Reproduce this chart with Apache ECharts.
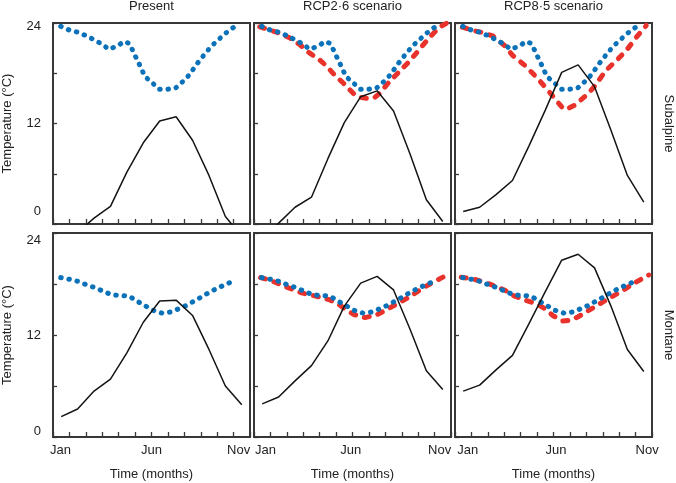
<!DOCTYPE html>
<html><head><meta charset="utf-8">
<script src="https://cdn.jsdelivr.net/npm/echarts@6/dist/echarts.min.js"></script>
<style>html,body{margin:0;padding:0;background:#fff}#c{width:676px;height:483px}</style>
</head><body><div id="c"></div>
<script>
// ---------------- data ----------------
const monthPos = [0.5, 1.5, 2.5, 3.5, 4.5, 5.5, 6.5, 7.5, 8.5, 9.5, 10.5, 11.5];
const monthTicks = {1: 'Jan', 6: 'Jun', 11: 'Nov'};
const columnTitles = ['Present', 'RCP2·6 scenario', 'RCP8·5 scenario'];
const rowNames = ['Subalpine', 'Montane'];
const yAxisName = 'Temperature (°C)';
const xAxisName = 'Time (months)';

// monthly mean temperature (black lines)
const tempSubPresent = [-2.6, -1.0, 0.7, 2.1, 6.2, 9.7, 12.3, 12.8, 10.0, 5.8, 0.9, -1.5];
const tempSub26      = [-1.8, 0.1, 2.0, 3.2, 7.8, 12.1, 15.2, 15.9, 13.5, 8.4, 2.9, 0.3];
const tempSub85      = [1.5, 2.0, 3.5, 5.2, 9.3, 13.6, 18.1, 19.0, 16.4, 11.2, 5.8, 2.6];
const tempMonPresent = [2.4, 3.3, 5.4, 6.8, 9.9, 13.5, 16.0, 16.1, 14.3, 10.3, 6.0, 3.8];
const tempMon26      = [3.9, 4.7, 6.6, 8.4, 11.3, 15.4, 18.1, 18.9, 17.3, 12.7, 7.8, 5.6];
const tempMon85      = [5.4, 6.1, 7.9, 9.6, 13.3, 17.1, 20.8, 21.5, 19.9, 15.4, 10.3, 7.7];

// present thermal threshold (blue dotted), [month, °C]
const thresholdSubPresent = [[0.47,23.6],[1.0,23.15],[1.5,22.9],[2.0,22.5],[2.5,22.0],[3.0,21.45],[3.4,20.85],[3.9,21.25],[4.35,21.8],[4.65,21.55],[4.9,20.55],[5.1,19.7],[5.35,18.7],[5.6,17.6],[6.0,16.95],[6.45,16.1],[7.0,16.1],[7.45,16.2],[7.9,17.0],[8.3,17.8],[8.6,18.65],[8.95,19.6],[9.3,20.4],[9.6,21.15],[10.1,22.05],[10.5,22.75],[10.9,23.35],[11.35,23.95]];
const thresholdMonPresent = [[0.47,18.75],[1.0,18.55],[1.55,18.3],[2.1,17.85],[2.6,17.55],[3.1,17.1],[3.6,16.72],[4.15,16.65],[4.65,16.55],[5.15,15.95],[5.65,15.4],[6.1,14.9],[6.65,14.57],[7.15,14.7],[7.65,15.08],[8.15,15.5],[8.7,16.1],[9.2,16.65],[9.6,17.1],[10.1,17.6],[10.6,18.0],[11.1,18.5]];

// future thermal threshold (red dashed), [month, °C]
const thresholdSub26 = [[0.35,23.55],[1.0,23.15],[1.6,22.75],[2.2,22.2],[2.8,21.4],[3.4,20.4],[4.0,19.6],[4.45,18.8],[4.9,17.8],[5.35,17.0],[5.85,16.0],[6.15,15.4],[6.55,15.1],[6.95,15.0],[7.35,15.1],[7.65,15.6],[8.25,17.0],[8.85,18.2],[9.5,19.5],[10.1,20.9],[10.7,22.3],[11.3,23.5],[11.75,24.0]];
const thresholdSub85 = [[0.45,23.5],[1.0,23.15],[1.7,22.85],[2.3,22.45],[3.0,21.35],[3.5,20.15],[4.25,18.95],[4.95,17.55],[5.65,16.0],[6.15,14.8],[6.6,13.75],[6.8,13.7],[7.3,14.2],[7.9,15.2],[8.4,16.2],[9.2,18.35],[9.85,19.55],[10.45,20.75],[11.05,22.3],[11.65,23.7]];
const thresholdMon26 = [[0.4,18.75],[1.0,18.45],[1.7,17.85],[2.9,16.95],[3.7,16.6],[4.6,16.15],[5.2,15.55],[5.6,15.0],[6.1,14.4],[6.75,14.05],[7.45,14.35],[8.05,14.95],[8.7,15.65],[9.4,16.4],[10.1,17.3],[10.8,18.1],[11.6,18.9]];
const thresholdMon85 = [[0.38,18.8],[1.1,18.6],[1.7,18.25],[2.4,17.8],[3.0,17.3],[3.6,16.6],[4.35,16.05],[5.05,15.6],[5.55,15.0],[5.95,14.3],[6.55,13.65],[7.1,13.75],[7.5,14.15],[8.2,14.95],[8.8,15.65],[9.6,16.55],[10.35,17.4],[11.05,18.25],[11.8,19.05]];

// panels [row][col]
const panelTemp = [[tempSubPresent, tempSub26, tempSub85], [tempMonPresent, tempMon26, tempMon85]];
const panelBlue = [[thresholdSubPresent, thresholdSubPresent, thresholdSubPresent], [thresholdMonPresent, thresholdMonPresent, thresholdMonPresent]];
const panelRed  = [[null, thresholdSub26, thresholdSub85], [null, thresholdMon26, thresholdMon85]];

// ---------------- layout / style ----------------
const FONT = 'Liberation Sans, Arial, Helvetica, sans-serif';
const TXT = '#222';
const FRAME = '#383838';
const colLeft = [53, 254, 455];
const colWidth = [197, 197, 197];
const rowTop = [23, 233];
const rowHeight = [201, 204];
const xLabelShift = [[-9, 0, 5], [-5, -1.7, 5], [-3.6, 2.4, 11.6]]; // per column: Jan, Jun, Nov
const yLabelPad = [[7, 26], [14, 11]]; // per row: top pad for 24, bottom pad for 0

const chart = echarts.init(document.getElementById('c'), null, {renderer: 'canvas'});
const grid = [], xAxis = [], yAxis = [], series = [], graphic = [];

function shiftPad(s) { return s < 0 ? [0, -2 * s, 0, 0] : [0, 0, 0, 2 * s]; }

for (let r = 0; r < 2; r++) {
  for (let c = 0; c < 3; c++) {
    const gi = grid.length;
    grid.push({left: colLeft[c], top: rowTop[r], width: colWidth[c], height: rowHeight[r],
      show: true, borderColor: FRAME, borderWidth: 2, backgroundColor: 'transparent',
      containLabel: false, outerBoundsMode: 'none'});
    const sh = xLabelShift[c];
    xAxis.push({
      type: 'value', gridIndex: gi, min: 0, max: 12, interval: 1,
      axisLine: {show: false},
      axisTick: {show: true, inside: true, length: 5, lineStyle: {color: FRAME, width: 1.3}},
      splitLine: {show: false},
      axisLabel: {
        show: r === 1, margin: 7, color: TXT, fontSize: 13, fontFamily: FONT,
        showMinLabel: true, showMaxLabel: true, hideOverlap: false,
        formatter: function (v) {
          if (v === 1) return '{a|Jan}';
          if (v === 6) return '{b|Jun}';
          if (v === 11) return '{d|Nov}';
          return '';
        },
        rich: {
          a: {padding: shiftPad(sh[0]), fontSize: 13, fontFamily: FONT, color: TXT},
          b: {padding: shiftPad(sh[1]), fontSize: 13, fontFamily: FONT, color: TXT},
          d: {padding: shiftPad(sh[2]), fontSize: 13, fontFamily: FONT, color: TXT}
        }
      },
      name: r === 1 ? xAxisName : '', nameLocation: 'middle', nameGap: 31, nameMoveOverlap: false,
      nameTextStyle: {color: TXT, fontSize: 13, fontFamily: FONT}
    });
    const yp = yLabelPad[r];
    yAxis.push({
      type: 'value', gridIndex: gi, min: 0, max: 24, interval: 6,
      axisLine: {show: false},
      axisTick: {show: true, inside: true, length: 4, lineStyle: {color: FRAME, width: 1.3}},
      splitLine: {show: false},
      axisLabel: {
        show: c === 0, margin: 12, color: TXT, fontSize: 13, fontFamily: FONT,
        showMinLabel: true, showMaxLabel: true, hideOverlap: false,
        formatter: function (v) {
          if (v === 24) return '{t|24}';
          if (v === 0) return '{u|0}';
          if (v === 12) return '12';
          return '';
        },
        rich: {
          t: {padding: [yp[0], 0, 0, 0], fontSize: 13, fontFamily: FONT, color: TXT},
          u: {padding: [0, 0, yp[1], 0], fontSize: 13, fontFamily: FONT, color: TXT}
        }
      },
      name: c === 0 ? yAxisName : '', nameLocation: 'middle', nameGap: 39, nameRotate: 90, nameMoveOverlap: false,
      nameTextStyle: {color: TXT, fontSize: 13, fontFamily: FONT}
    });
    const yi = yAxis.length - 1;
    if (c === 2) {
      yAxis.push({
        type: 'value', gridIndex: gi, min: 0, max: 24, position: 'right',
        axisLine: {show: false}, axisTick: {show: false}, axisLabel: {show: false}, splitLine: {show: false},
        name: rowNames[r], nameLocation: 'middle', nameGap: 10, nameRotate: -90, nameMoveOverlap: false,
        nameTextStyle: {color: TXT, fontSize: 13, fontFamily: FONT}
      });
    }
    if (panelRed[r][c]) {
      series.push({type: 'line', xAxisIndex: gi, yAxisIndex: yi, data: panelRed[r][c],
        showSymbol: false, symbol: 'none', silent: true, clip: true, z: 2,
        lineStyle: {color: '#e8322b', width: 5, type: [5, 9], cap: 'round', join: 'round'}});
    }
    series.push({type: 'line', xAxisIndex: gi, yAxisIndex: yi, data: panelBlue[r][c],
      showSymbol: false, symbol: 'none', silent: true, clip: true, z: 3,
      lineStyle: {color: '#0b72b9', width: 5, type: [0.5, 7.8], cap: 'round', join: 'round'}});
    series.push({type: 'line', xAxisIndex: gi, yAxisIndex: yi,
      data: monthPos.map((m, i) => [m, panelTemp[r][c][i]]),
      showSymbol: false, symbol: 'none', silent: true, clip: true, z: 4,
      lineStyle: {color: '#141414', width: 1.5}});
  }
}

for (let c = 0; c < 3; c++) {
  graphic.push({type: 'text', x: colLeft[c] + colWidth[c] / 2, y: 6, silent: true,
    style: {text: columnTitles[c], align: 'center', verticalAlign: 'middle',
      font: '13px ' + FONT, fill: TXT}});
}

chart.setOption({
  animation: false,
  backgroundColor: '#fff',
  textStyle: {fontFamily: FONT},
  grid: grid, xAxis: xAxis, yAxis: yAxis, series: series, graphic: graphic
});
</script></body></html>
